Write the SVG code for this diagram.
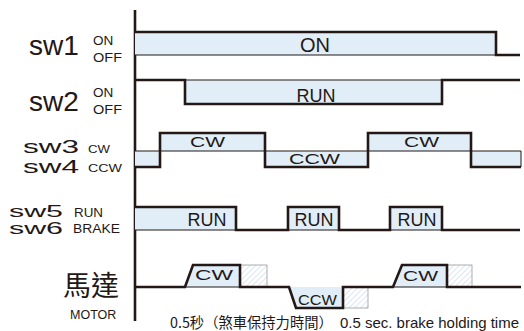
<svg xmlns="http://www.w3.org/2000/svg" width="524" height="331" viewBox="0 0 524 331">
<defs>
<pattern id="hatch" patternUnits="userSpaceOnUse" width="4" height="4" patternTransform="rotate(45)">
<rect width="4" height="4" fill="#ffffff"/>
<line x1="0" y1="0" x2="0" y2="4" stroke="#cddcea" stroke-width="1.4"/>
</pattern>
<style>
.t{font-family:"Liberation Sans",Arial,sans-serif;fill:#231815}
.cjk{font-family:"Noto Sans CJK TC","Noto Sans CJK SC",sans-serif;fill:#231815}
.fill{fill:#e1eef8;stroke:none}
.thick{fill:none;stroke:#231815;stroke-width:2.6;stroke-linejoin:miter}
.thin{fill:none;stroke:#231815;stroke-width:1}
.hb{fill:url(#hatch);stroke:#9a9a9a;stroke-width:0.8}
</style>
</defs>
<rect width="524" height="331" fill="#ffffff"/>

<g id="labels">
<text class="t" x="29" y="55" font-size="28">sw1</text>
<text class="t" x="93" y="45" font-size="13.5">ON</text>
<text class="t" x="93" y="62" font-size="13.5" textLength="29" lengthAdjust="spacingAndGlyphs">OFF</text>
<text class="t" x="29" y="111" font-size="28">sw2</text>
<text class="t" x="93" y="97" font-size="13.5">ON</text>
<text class="t" x="93" y="114" font-size="13.5" textLength="29" lengthAdjust="spacingAndGlyphs">OFF</text>
<text class="t" x="23" y="152.5" font-size="19" textLength="56" lengthAdjust="spacingAndGlyphs">sw3</text>
<text class="t" x="88" y="153" font-size="11" textLength="22" lengthAdjust="spacingAndGlyphs">CW</text>
<text class="t" x="23" y="172.5" font-size="19" textLength="56" lengthAdjust="spacingAndGlyphs">sw4</text>
<text class="t" x="88" y="172" font-size="11" textLength="34" lengthAdjust="spacingAndGlyphs">CCW</text>
<text class="t" x="9" y="217" font-size="16" textLength="54" lengthAdjust="spacingAndGlyphs">sw5</text>
<text class="t" x="74" y="217" font-size="13" textLength="29" lengthAdjust="spacingAndGlyphs">RUN</text>
<text class="t" x="9" y="233.5" font-size="16" textLength="54" lengthAdjust="spacingAndGlyphs">sw6</text>
<text class="t" x="73" y="233" font-size="12.5" textLength="47" lengthAdjust="spacingAndGlyphs">BRAKE</text>
<text class="cjk" x="63" y="296" font-size="28">馬達</text>
<text class="t" x="70" y="319" font-size="12.5">MOTOR</text>
</g>

<g id="axis">
<line x1="135" y1="10" x2="135" y2="321" stroke="#231815" stroke-width="2.6"/>
</g>

<g id="sw1">
<rect class="fill" x="135" y="32" width="361" height="23"/>
<line class="thin" x1="135" y1="55" x2="496" y2="55"/>
<path class="thick" d="M135,32 H496 V55 H520"/>
<text class="t" x="315" y="52" font-size="20" text-anchor="middle">ON</text>
</g>

<g id="sw2">
<rect class="fill" x="185" y="80" width="257" height="24"/>
<line class="thin" x1="185" y1="80" x2="442" y2="80"/>
<path class="thick" d="M135,80 H185 V104 H442 V80 H520"/>
<text class="t" x="316" y="102" font-size="18" text-anchor="middle">RUN</text>
</g>

<g id="sw3-sw4">
<rect class="fill" x="135" y="151" width="25" height="16"/>
<rect class="fill" x="160" y="133" width="105" height="18"/>
<rect class="fill" x="265" y="151" width="103" height="16"/>
<rect class="fill" x="368" y="133" width="103" height="18"/>
<rect class="fill" x="471" y="151" width="50" height="16"/>
<path class="thin" d="M135,151 H521 V167"/>
<path class="thick" d="M135,167 H160 V133 H265 V167 H368 V133 H471 V167 H521"/>
<text class="t" x="190" y="147" font-size="14" textLength="35" lengthAdjust="spacingAndGlyphs">CW</text>
<text class="t" x="289" y="164" font-size="14" textLength="51" lengthAdjust="spacingAndGlyphs">CCW</text>
<text class="t" x="404" y="147" font-size="14" textLength="35" lengthAdjust="spacingAndGlyphs">CW</text>
</g>

<g id="sw5-sw6">
<rect class="fill" x="135" y="207" width="101" height="23"/>
<rect class="fill" x="288" y="207" width="51" height="23"/>
<rect class="fill" x="390" y="207" width="52" height="23"/>
<line class="thin" x1="135" y1="230" x2="442" y2="230"/>
<path class="thick" d="M135,207 H236 V230 H288 V207 H339 V230 H390 V207 H442 V230 H520"/>
<text class="t" x="207" y="226" font-size="18" text-anchor="middle">RUN</text>
<text class="t" x="314" y="226" font-size="18" text-anchor="middle">RUN</text>
<text class="t" x="417" y="226" font-size="18" text-anchor="middle">RUN</text>
</g>

<g id="motor">
<polygon class="fill" points="185,287 193,265 240,265 240,287"/>
<polygon class="fill" points="289,287 296,308 343,308 343,287"/>
<polygon class="fill" points="393,287 402,265 447,265 447,287"/>
<rect class="hb" x="240" y="265" width="27" height="22"/>
<rect class="hb" x="343" y="287" width="25" height="21"/>
<rect class="hb" x="447" y="265" width="25" height="22"/>
<line class="thin" x1="185" y1="287" x2="240" y2="287"/>
<line class="thin" x1="393" y1="287" x2="447" y2="287"/>
<path class="thick" d="M135,287 H185 L193,265 H240 V287 H289 L296,308 H343 V287 H393 L402,265 H447 V287 H521"/>
<text class="t" x="195" y="280" font-size="15" textLength="38" lengthAdjust="spacingAndGlyphs">CW</text>
<text class="t" x="298" y="305" font-size="15" textLength="39" lengthAdjust="spacingAndGlyphs">CCW</text>
<text class="t" x="403" y="281" font-size="15" textLength="35" lengthAdjust="spacingAndGlyphs">CW</text>
</g>

<g id="caption">
<text class="cjk" x="170" y="328" font-size="14.3">0.5秒（煞車保持力時間）</text>
<text class="t" x="340" y="328" font-size="14.5" textLength="179" lengthAdjust="spacingAndGlyphs">0.5 sec. brake holding time</text>
</g>
</svg>
